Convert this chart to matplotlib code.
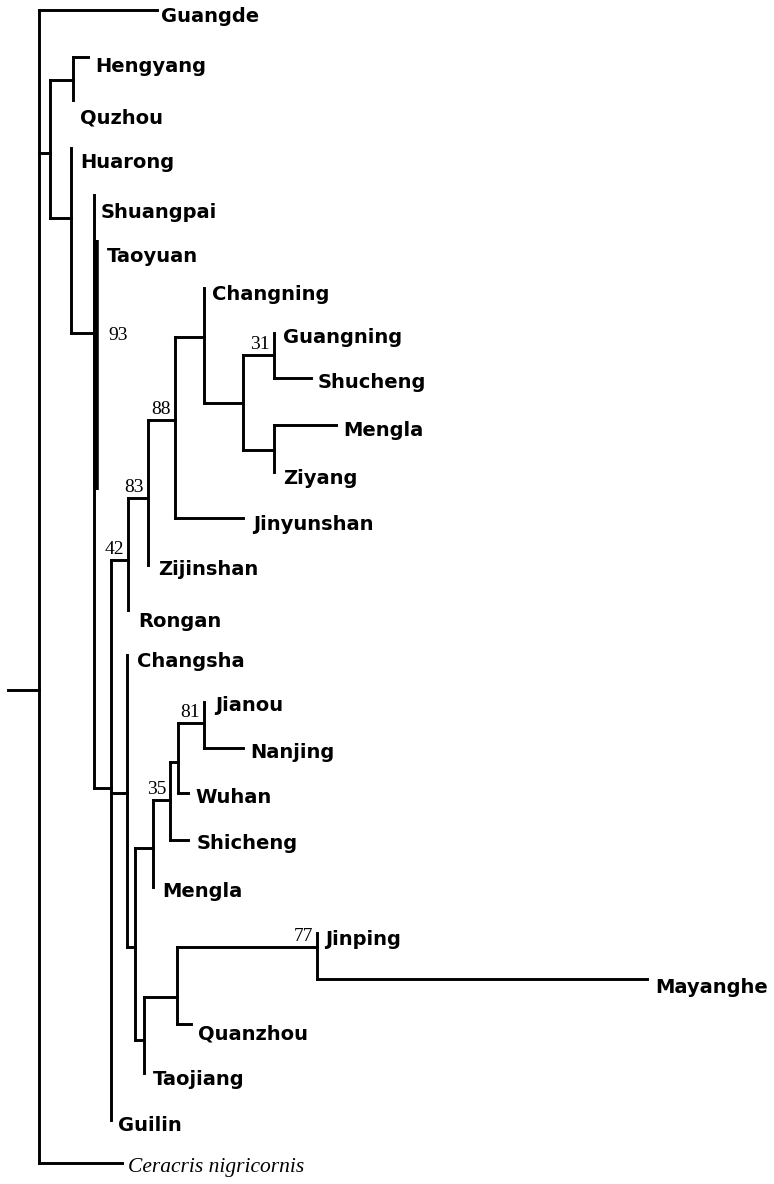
import matplotlib
matplotlib.use("Agg")
import matplotlib.pyplot as plt

# internal nodes: x position, y where the branch from the parent joins, parent, support
node_ids = ["root", "n1", "n2", "n3", "n4", "n5", "n6", "n7", "n8", "n9", "n10",
            "n11", "n12", "ncs", "n13", "n14", "n16", "n17", "n18", "n15", "n19", "n20"]
node_x = [39, 50, 73, 71, 94, 111, 128, 148, 175, 204, 243,
          274, 274, 127, 135, 153, 170, 178, 204, 144, 177, 317]
node_y = [690, 153, 80, 218, 333, 788, 560, 498, 420, 337, 403,
          355, 450, 793, 947, 848, 800, 762, 723, 1040, 997, 947]
node_parent = [None, "root", "n1", "n1", "n3", "n4", "n5", "n6", "n7", "n8", "n9",
               "n10", "n10", "n5", "ncs", "n13", "n14", "n16", "n17", "n13", "n15", "n19"]
node_support = ["", "", "", "", "93", "", "42", "83", "88", "", "",
                "31", "", "", "", "", "35", "", "81", "", "", "77"]

# tips: branch end x, y, parent, label position
tip_names = ["Guangde", "Hengyang", "Quzhou", "Huarong", "Shuangpai", "Taoyuan",
             "Changning", "Guangning", "Shucheng", "Mengla", "Ziyang", "Jinyunshan",
             "Zijinshan", "Rongan", "Changsha", "Jianou", "Nanjing", "Wuhan",
             "Shicheng", "Mengla", "Jinping", "Mayanghe", "Quanzhou", "Taojiang",
             "Guilin", "Ceracris nigricornis"]
tip_x = [157, 88, 73, 71, 94, 94,
         204, 274, 311, 336, 274, 243,
         148, 128, 127, 204, 243, 188,
         188, 153, 317, 647, 191, 144,
         111, 122]
tip_y = [10, 57, 100, 148, 195, 240,
         288, 333, 378, 425, 472, 518,
         565, 610, 655, 702, 748, 793,
         840, 887, 933, 979, 1024, 1073,
         1120, 1163]
tip_parent = ["root", "n2", "n2", "n3", "n4", "n4",
              "n9", "n11", "n11", "n12", "n12", "n8",
              "n7", "n6", "ncs", "n18", "n18", "n17",
              "n16", "n14", "n20", "n20", "n19", "n15",
              "n5", "root"]
tip_label_x = [161, 95, 80, 80, 101, 107,
               212, 283, 318, 343, 283, 253,
               158, 138, 137, 215, 250, 195,
               197, 162, 325, 655, 198, 153,
               118, 128]
tip_label_y = [22, 72, 123, 168, 218, 262,
               300, 343, 388, 436, 484, 530,
               575, 627, 667, 711, 758, 803,
               849, 897, 945, 993, 1039, 1085,
               1131, 1172]
thick_bar = (240, 490)

fig = plt.figure(figsize=(7.74, 11.84), dpi=100)
ax = fig.add_axes([0, 0, 1, 1])
ax.set_xlim(0, 774)
ax.set_ylim(1184, 0)
ax.axis("off")

lw = 2.1
kw = dict(color="black", lw=lw, solid_capstyle="projecting")
xpos = dict(zip(node_ids, node_x))
span = {n: [] for n in node_ids}

# horizontal branches
for n, x, y, p in zip(node_ids, node_x, node_y, node_parent):
    if p is None:
        ax.plot([8, x], [y, y], **kw)
    else:
        ax.plot([xpos[p], x], [y, y], **kw)
        span[p].append(y)
for x, y, p in zip(tip_x, tip_y, tip_parent):
    if x > xpos[p]:
        ax.plot([xpos[p], x], [y, y], **kw)
    span[p].append(y)

# vertical lines
for n, x in zip(node_ids, node_x):
    ax.plot([x, x], [min(span[n]), max(span[n])], **kw)

ax.plot([95.5, 95.5], thick_bar, color="black", lw=4.0, solid_capstyle="butt")

# labels
for name, lx, ly in zip(tip_names, tip_label_x, tip_label_y):
    if name.startswith("Ceracris"):
        ax.text(lx, ly, name, family="Liberation Serif", style="italic",
                fontsize=15.5, va="baseline", ha="left")
    else:
        ax.text(lx, ly, name, family="DejaVu Sans", fontweight="bold",
                fontsize=14, va="baseline", ha="left")

for s, x, y in zip(node_support, node_x, node_y):
    if not s:
        continue
    if s == "93":
        ax.text(x + 14, y + 7, s, family="Liberation Serif", fontsize=14,
                va="baseline", ha="left")
    else:
        ax.text(x - 4, y - 6, s, family="Liberation Serif", fontsize=14,
                va="baseline", ha="right")

fig.savefig("out.png", dpi=100)
